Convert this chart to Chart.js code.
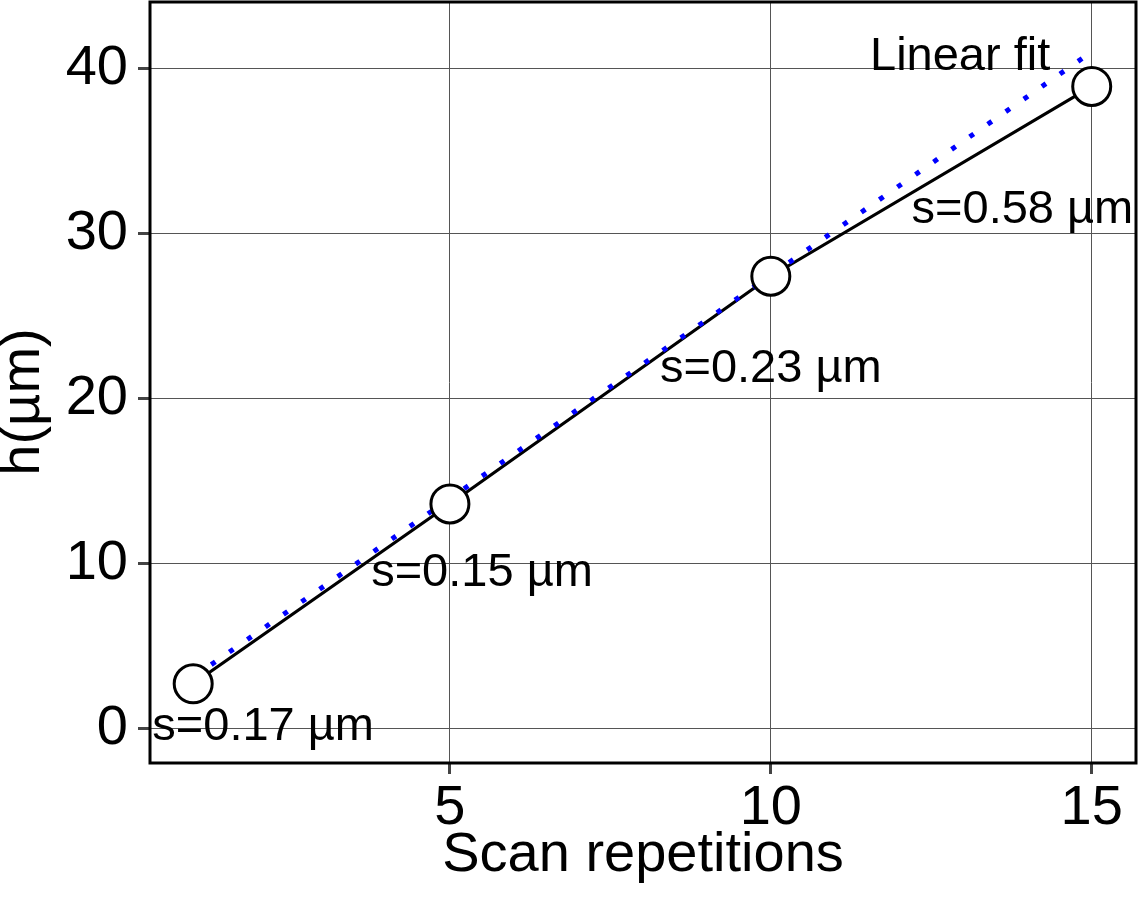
<!DOCTYPE html>
<html>
<head>
<meta charset="utf-8">
<script src="https://cdn.jsdelivr.net/npm/chart.js@4"></script>
<style>
  body { margin: 0; background: #fff; }
</style>
</head>
<body>
<canvas id="scanChart" width="1139" height="901"></canvas>
<script>
// measured heights after each number of scan repetitions
const repetitions = [1, 5, 10, 15];
const heights = [2.7, 13.6, 27.4, 38.9];

// linear fit end points
const fitX = [1, 15];
const fitY = [3.1, 41.0];

// roughness labels, placed in data units
const noteText = ["s=0.17 µm", "s=0.15 µm", "s=0.23 µm", "s=0.58 µm", "Linear fit"];
const noteX = [2.09, 5.5, 10.0, 13.92, 12.95];
const noteY = [0.09, 9.43, 21.75, 31.4, 40.67];

const xTicks = [5, 10, 15];
const yTicks = [0, 10, 20, 30, 40];

const font = "'Liberation Sans', Arial, sans-serif";

const frame = {
  id: "frame",
  afterDatasetsDraw(chart) {
    const ctx = chart.ctx;
    const { x, y } = chart.scales;
    ctx.save();
    ctx.fillStyle = "#000";
    ctx.font = "47px " + font;
    ctx.textAlign = "center";
    ctx.textBaseline = "middle";
    noteText.forEach((t, i) => {
      ctx.fillText(t, x.getPixelForValue(noteX[i]), y.getPixelForValue(noteY[i]));
    });
    ctx.restore();
  },
  afterDraw(chart) {
    const ctx = chart.ctx;
    const a = chart.chartArea;
    ctx.save();
    ctx.strokeStyle = "#000";
    ctx.lineWidth = 3;
    ctx.strokeRect(a.left, a.top, a.right - a.left, a.bottom - a.top);
    // y axis title
    ctx.translate(24, 402);
    ctx.rotate(-Math.PI / 2);
    ctx.font = "56px " + font;
    ctx.fillStyle = "#000";
    ctx.textAlign = "center";
    ctx.textBaseline = "middle";
    ctx.fillText("h(µm)", 0, 0);
    ctx.restore();
  },
};

const toXY = (xs, ys) => xs.map((v, i) => ({ x: v, y: ys[i] }));

new Chart(document.getElementById("scanChart").getContext("2d"), {
  type: "line",
  data: {
    datasets: [
      {
        // markers on top
        data: toXY(repetitions, heights),
        showLine: false,
        pointRadius: 19,
        pointBorderWidth: 3,
        pointBackgroundColor: "#fff",
        pointBorderColor: "#000",
        order: 1,
      },
      {
        data: toXY(fitX, fitY),
        borderColor: "#0000ff",
        borderWidth: 5,
        borderDash: [5, 17],
        pointRadius: 0,
        fill: false,
        order: 2,
      },
      {
        data: toXY(repetitions, heights),
        borderColor: "#000",
        borderWidth: 3.2,
        pointRadius: 0,
        fill: false,
        tension: 0,
        order: 3,
      },
    ],
  },
  options: {
    responsive: false,
    animation: false,
    layout: { autoPadding: false, padding: { top: 2, right: 3, left: 0, bottom: 0 } },
    plugins: { legend: { display: false }, tooltip: { enabled: false } },
    scales: {
      x: {
        type: "linear",
        min: 0.327,
        max: 15.69,
        afterBuildTicks: (s) => { s.ticks = xTicks.map((v) => ({ value: v })); },
        afterFit: (s) => {
          s.height = 138;
          s.paddingLeft = 0;
          s.paddingRight = 0;
        },
        border: { display: false },
        grid: { color: "#555", lineWidth: 1, tickColor: "#444", tickWidth: 3, tickLength: 11 },
        ticks: { color: "#000", padding: 4, font: { family: font, size: 56, lineHeight: 1.1 } },
        title: {
          display: true,
          text: "Scan repetitions",
          color: "#000",
          font: { family: font, size: 56, lineHeight: 1.2 },
          padding: { top: 0, bottom: 12 },
        },
      },
      y: {
        type: "linear",
        min: -2.1,
        max: 44.02,
        afterBuildTicks: (s) => { s.ticks = yTicks.map((v) => ({ value: v })); },
        afterFit: (s) => {
          s.width = 150;
          s.paddingTop = 0;
          s.paddingBottom = 0;
        },
        border: { display: false },
        grid: { color: "#555", lineWidth: 1, tickColor: "#444", tickWidth: 3, tickLength: 12 },
        ticks: { color: "#000", padding: 10, font: { family: font, size: 56 } },
      },
    },
  },
  plugins: [frame],
});
</script>
</body>
</html>
